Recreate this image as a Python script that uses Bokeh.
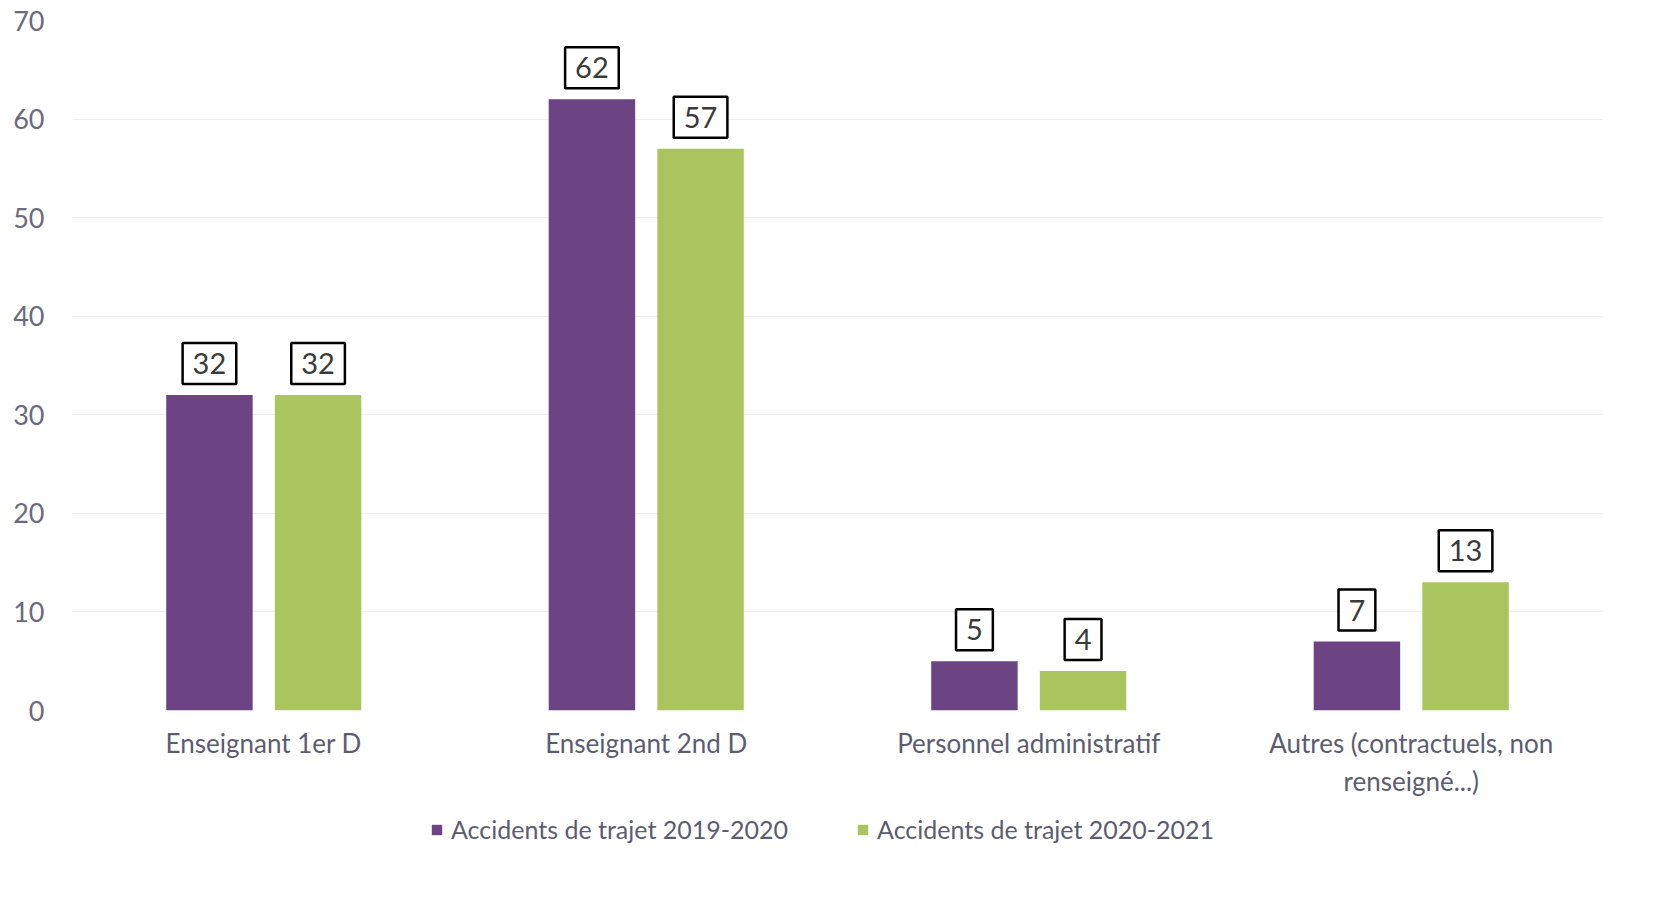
from bokeh.plotting import figure
from bokeh.layouts import column
from bokeh.models import ColumnDataSource, FactorRange, FixedTicker, Label, Legend, LegendItem, Range1d
from bokeh.transform import dodge
from bokeh.embed import file_html
from bokeh.resources import INLINE

categories = ["Enseignant 1er D", "Enseignant 2nd D", "Personnel administratif",
              "Autres (contractuels, non\nrenseigné...)"]
series_2019 = [32, 62, 5, 7]
series_2020 = [32, 57, 4, 13]
series_names = ["Accidents de trajet 2019-2020", "Accidents de trajet 2020-2021"]
y_ticks = [0, 10, 20, 30, 40, 50, 60, 70]

PURPLE = "#6c4483"
GREEN = "#aac45e"
FONT = "Lato"

src = ColumnDataSource(dict(cat=categories, a=series_2019, b=series_2020))

p = figure(frame_width=1530, frame_height=690, x_range=FactorRange(*categories, range_padding=0),
           y_range=Range1d(0, 70), output_backend="svg", toolbar_location=None,
           min_border_left=72, min_border_top=20, min_border_right=46, min_border_bottom=90)
p.outline_line_color = None
p.background_fill_color = "white"

off = 0.142
w = 0.226
p.vbar(x=dodge("cat", -off, range=p.x_range), top="a", width=w, source=src,
       fill_color=PURPLE, line_color=None)
p.vbar(x=dodge("cat", off, range=p.x_range), top="b", width=w, source=src,
       fill_color=GREEN, line_color=None)

for vals, o in ((series_2019, -off), (series_2020, off)):
    for i, v in enumerate(vals):
        p.add_layout(Label(x=i + 0.5 + o, y=v, text=str(v),
                           text_align="center", text_baseline="bottom", y_offset=11,
                           text_font=FONT, text_font_size="29px", text_color="#3a3a3a",
                           background_fill_color="white", border_line_color="black",
                           border_line_width=2.5, padding=10))

p.yaxis.ticker = FixedTicker(ticks=y_ticks)
p.yaxis.axis_line_color = None
p.yaxis.major_tick_line_color = None
p.yaxis.minor_tick_line_color = None
p.yaxis.major_label_text_font = FONT
p.yaxis.major_label_text_font_size = "27px"
p.yaxis.major_label_text_color = "#6a6a7c"
p.yaxis.major_label_standoff = 22

p.xaxis.axis_line_color = None
p.xaxis.major_tick_line_color = None
p.xaxis.minor_tick_line_color = None
p.xaxis.major_label_text_font = FONT
p.xaxis.major_label_text_font_size = "26px"
p.xaxis.major_label_text_color = "#5c5c70"
p.xaxis.major_label_standoff = 10

p.xgrid.grid_line_color = None
p.ygrid.grid_line_color = "#efefef"

# legend strip below the chart (zero-width bars out of view, used only as legend swatches)
lg = figure(width=1648, height=70, x_range=FactorRange(*categories), y_range=Range1d(-200, -199),
            output_backend="svg", toolbar_location=None,
            x_axis_location=None, y_axis_location=None,
            min_border_left=0, min_border_right=0, min_border_top=0, min_border_bottom=0)
lg.outline_line_color = None
lg.grid.visible = False
e1 = lg.vbar(x="cat", top="a", width=0, source=src, fill_color=PURPLE, line_color=None)
e2 = lg.vbar(x="cat", top="b", width=0, source=src, fill_color=GREEN, line_color=None)
legend = Legend(items=[LegendItem(label=series_names[0], renderers=[e1]),
                       LegendItem(label=series_names[1], renderers=[e2])],
                orientation="horizontal", location=(358, 26),
                label_text_font=FONT, label_text_font_size="25px", label_text_color="#5c5c70",
                glyph_width=13, glyph_height=13, spacing=68, label_standoff=8,
                border_line_color=None, background_fill_alpha=0, margin=0, padding=0)
lg.add_layout(legend, "center")

layout = column(p, lg, spacing=0)
open("out.html", "w").write(file_html(layout, INLINE))
